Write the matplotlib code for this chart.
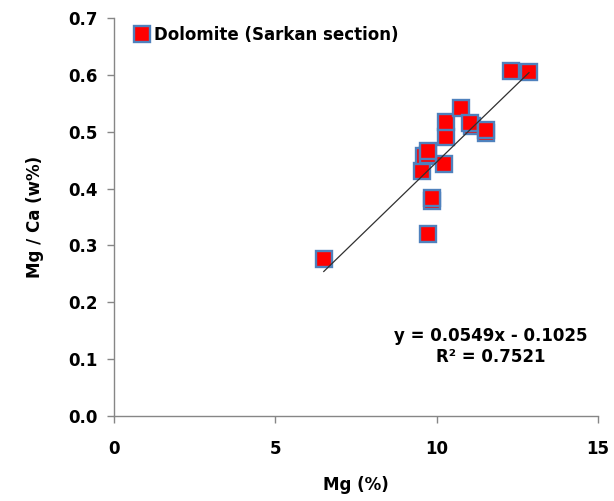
import numpy as np
import matplotlib.pyplot as plt
from matplotlib.ticker import FormatStrFormatter

# Mg content (%) and Mg/Ca ratio (w%) of the dolomite samples
mg = [6.5, 9.72, 9.85, 9.85, 9.54, 10.23, 9.62, 9.72, 9.72,
      10.30, 10.30, 10.75, 11.09, 11.03, 11.53, 11.53, 12.30, 12.86]
mg_ca = [0.276, 0.321, 0.378, 0.383, 0.431, 0.443, 0.457, 0.459, 0.466,
         0.491, 0.516, 0.541, 0.509, 0.515, 0.498, 0.503, 0.606, 0.605]

# linear trend reported for the series
slope = 0.0549
intercept = -0.1025
r2 = 0.7521

x_ticks = [0, 5, 10, 15]
y_ticks = [0.0, 0.1, 0.2, 0.3, 0.4, 0.5, 0.6, 0.7]

plt.rcParams['font.family'] = ['DejaVu Sans']
plt.rcParams['font.weight'] = 'bold'

fig = plt.figure(figsize=(6.14, 5.01), dpi=100)
ax = fig.add_axes([0.1857, 0.169, 0.7883, 0.7957])

ax.plot(mg, mg_ca, linestyle='none', marker='s', markersize=11,
        markerfacecolor='#ff0000', markeredgecolor='#4f81bd',
        markeredgewidth=1.7, label='Dolomite (Sarkan section)', zorder=3)

xs = np.array([min(mg), max(mg)])
ax.plot(xs, slope * xs + intercept, color='#303030', lw=0.9, zorder=4)

ax.text(11.68, 0.123, f'y = {slope}x - {abs(intercept)}\nR² = {r2}',
        ha='center', va='center', fontsize=12, fontweight='bold',
        linespacing=1.25)

ax.set_xlim(0, 15)
ax.set_ylim(0, 0.7)
ax.set_xticks(x_ticks)
ax.set_yticks(y_ticks)
ax.yaxis.set_major_formatter(FormatStrFormatter('%.1f'))

for side in ['top', 'right']:
    ax.spines[side].set_visible(False)
for side in ['left', 'bottom']:
    ax.spines[side].set_color('#868686')
    ax.spines[side].set_linewidth(1.0)
ax.tick_params(direction='out', length=5, width=1.0, color='#868686',
               labelsize=12)
ax.tick_params(axis='x', pad=12)
ax.tick_params(axis='y', pad=7)
for lab in ax.get_xticklabels() + ax.get_yticklabels():
    lab.set_fontweight('bold')

ax.set_xlabel('Mg (%)', fontsize=12, fontweight='bold', labelpad=13)
ax.set_ylabel('Mg / Ca (w%)', fontsize=12, fontweight='bold', labelpad=17)

ax.legend(loc='center left', bbox_to_anchor=(0.027, 0.957), frameon=False,
          fontsize=12, handlelength=0.8, handletextpad=0.3, borderpad=0,
          markerscale=1.0)

fig.savefig('out.png', dpi=100)
